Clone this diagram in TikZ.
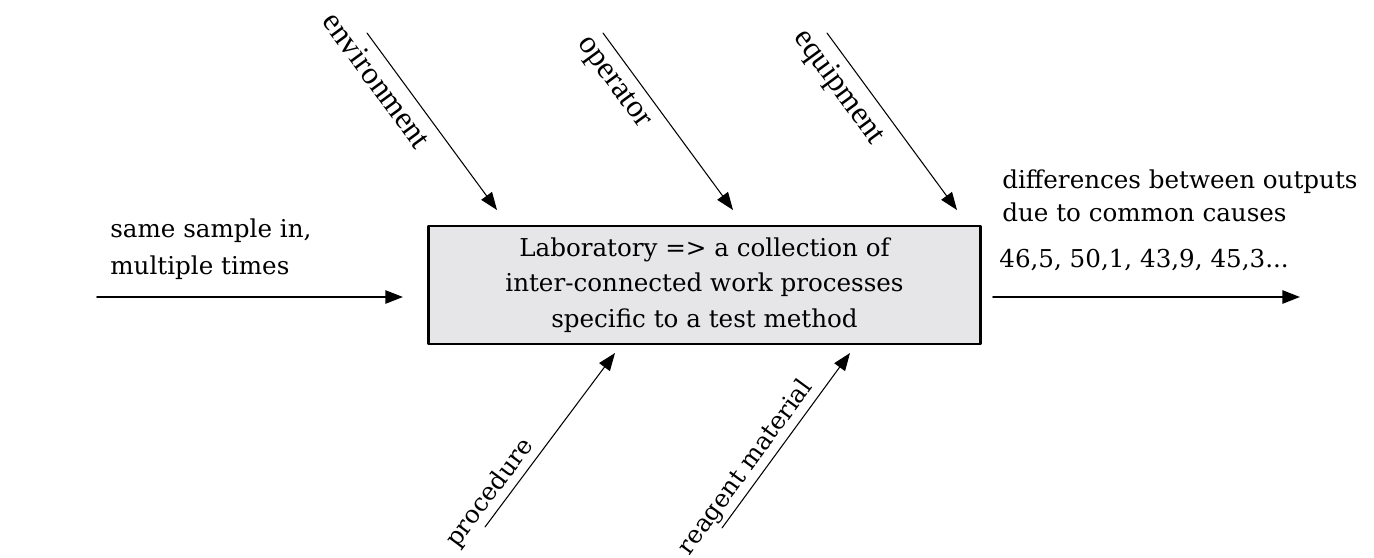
\documentclass[tikz,border=0pt]{standalone}
\usepackage{fontspec}
\setmainfont{DejaVu Serif}
\newfontfamily\causefont{Liberation Serif}
\usetikzlibrary{arrows.meta}
\definecolor{boxgray}{RGB}{230,230,232}
\tikzset{
  causearrow/.style={->, line width=0.6pt},
  flowarrow/.style={->, line width=1.1pt},
  textlabel/.style={inner sep=0pt, anchor=base west, align=left},
}
\begin{document}
\begin{tikzpicture}[x=0.02cm, y=-0.02cm, line join=round, line cap=round,
    >={Triangle[length=10pt,width=7.5pt]}, font=\fontsize{14}{20.3}\selectfont]
  \useasboundingbox (0,0) rectangle (1374,558);
  \path
  (367,33) coordinate (env1) (497,210) coordinate (env2)
  (603,33) coordinate (op1)  (733,210) coordinate (op2)
  (827,33) coordinate (eq1)  (957,210) coordinate (eq2)
  (485,527) coordinate (pr1) (615,353) coordinate (pr2)
  (722,528) coordinate (re1) (850,353) coordinate (re2)
  (97,297) coordinate (in1)  (403,297) coordinate (in2)
  (993,297) coordinate (out1) (1300,297) coordinate (out2)
  ;
  % laboratory box
  \node[draw, line width=1.4pt, fill=boxgray, minimum width=11.04cm, minimum height=2.36cm,
        align=center, inner sep=0pt] (lab) at (704.5,285)
        {Laboratory => a collection of\\inter-connected work processes\\specific to a test method};
  % input and output
  \draw[flowarrow] (in1) -- (in2);
  \draw[flowarrow] (out1) -- (out2);
  \node[textlabel, font=\fontsize{14}{20.8}\selectfont] (sample) at (110,274) {same sample in,\\multiple times};
  \node[textlabel, font=\fontsize{14}{18.7}\selectfont] (diff) at (1002,221) {differences between outputs\\due to common causes};
  \node[textlabel] (values) at (999,267) {46,5, 50,1, 43,9, 45,3...};
  % causes from above
  \foreach \a/\b/\p/\t in {env1/env2/0.2/environment, op1/op2/0.21/operator, eq1/eq2/0.23/equipment}
    \draw[causearrow] (\a) -- node[pos=\p, sloped, below, inner sep=5pt, font=\causefont\fontsize{18}{20}\selectfont]{\t} (\b);
  % causes from below
  \foreach \a/\b/\p/\t in {pr1/pr2/0.14/procedure, re1/re2/0.29/reagent material}
    \draw[causearrow] (\a) -- node[pos=\p, sloped, above, inner sep=2pt]{\t} (\b);
\end{tikzpicture}
\end{document}
